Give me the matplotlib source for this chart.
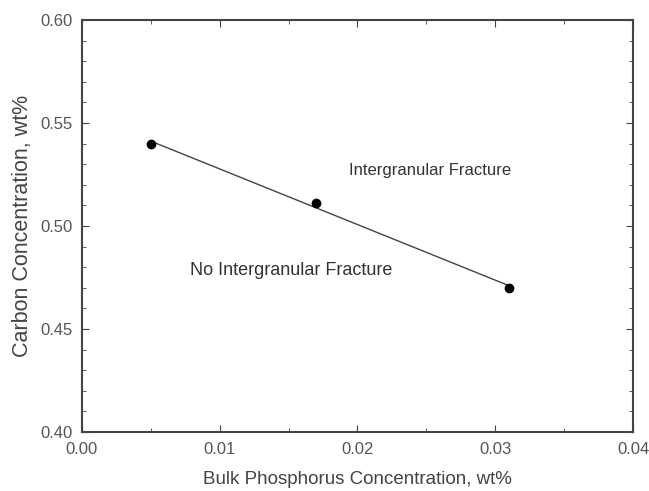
import matplotlib
matplotlib.use('Agg')
import matplotlib.pyplot as plt
import numpy as np
from matplotlib.ticker import MultipleLocator, FormatStrFormatter

plt.rcParams['font.family'] = ['Liberation Sans', 'DejaVu Sans']

phosphorus = np.array([0.005, 0.017, 0.031])
carbon = np.array([0.540, 0.511, 0.470])

fig = plt.figure(figsize=(6.49, 4.91), dpi=100)
ax = fig.add_axes([82 / 649, 1 - 432 / 491, 551 / 649, 412 / 491])

coef = np.polyfit(phosphorus, carbon, 1)
xs = np.array([phosphorus.min(), phosphorus.max()])
ax.plot(xs, np.polyval(coef, xs), color='#444444', lw=1.0)
ax.plot(phosphorus, carbon, 'o', color='black', ms=6)

ax.text(0.0253, 0.5269, 'Intergranular Fracture', ha='center', va='center',
        fontsize=12, color='#333333')
ax.text(0.0152, 0.4786, 'No Intergranular Fracture', ha='center', va='center',
        fontsize=13, color='#333333')

ax.set_xlim(0, 0.04)
ax.set_ylim(0.40, 0.60)
ax.xaxis.set_major_locator(MultipleLocator(0.01))
ax.xaxis.set_minor_locator(MultipleLocator(0.005))
ax.yaxis.set_major_locator(MultipleLocator(0.05))
ax.yaxis.set_minor_locator(MultipleLocator(0.01))
ax.tick_params(which='both', direction='in', top=True, right=True,
               colors='#444444', labelcolor='#555555', labelsize=12)
ax.tick_params(which='major', length=5)
ax.tick_params(which='minor', length=3)
ax.tick_params(axis='x', pad=7)
ax.tick_params(axis='y', pad=7)
ax.xaxis.set_major_formatter(FormatStrFormatter('%.2f'))
ax.yaxis.set_major_formatter(FormatStrFormatter('%.2f'))
for s in ax.spines.values():
    s.set_color('#444444')
    s.set_linewidth(1.5)

ax.set_xlabel('Bulk Phosphorus Concentration, wt%', fontsize=13.5, color='#444444', labelpad=10)
ax.set_ylabel('Carbon Concentration, wt%', fontsize=15.5, color='#444444', labelpad=5)

fig.savefig('out.png', dpi=100)
